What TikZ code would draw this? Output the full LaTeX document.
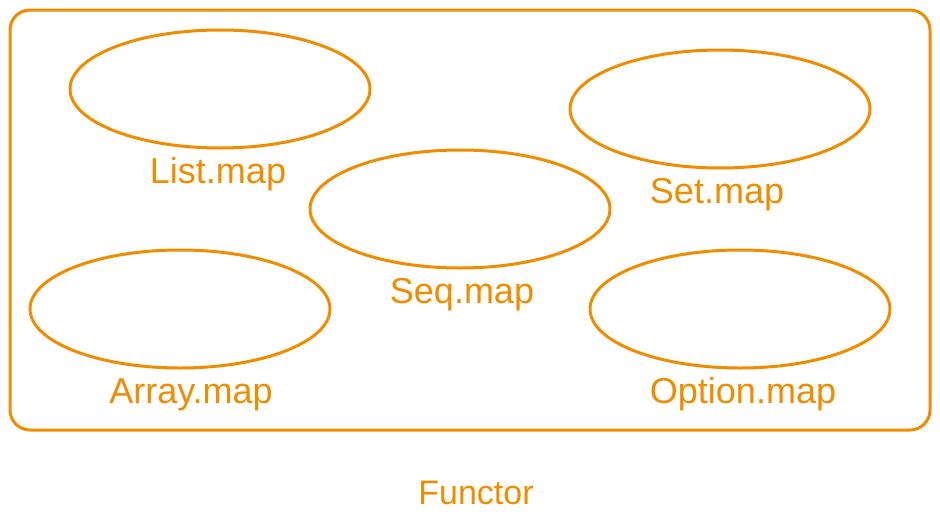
\documentclass[tikz,border=0pt]{standalone}
\usepackage{fontspec}
\setmainfont{Liberation Sans}
\usetikzlibrary{shapes.geometric}
\definecolor{funorange}{HTML}{F08C00}

\begin{document}
\begin{tikzpicture}[
		x=1pt, y=-1pt,
		every node/.style={text=funorange},
		mapset/.style={ellipse,draw=funorange,line width=3pt,minimum width=300pt,minimum height=118pt,inner sep=0pt},
		maplabel/.style={anchor=base,font=\fontsize{36}{40}\selectfont},
		frame/.style={draw=funorange,line width=3pt,rounded corners=20pt}
		]
		\useasboundingbox (0,0) rectangle (940,525);
		\draw[frame] (10,10) rectangle (930,430);
		% the ellipses
		\node[mapset] (list) at (220,89) {};
		\node[mapset] (set) at (720,109) {};
		\node[mapset] (seq) at (460,209) {};
		\node[mapset] (array) at (180,309) {};
		\node[mapset] (option) at (740,309) {};
		% their labels
		\node[maplabel] (listlbl) at (218,183) {List.map};
		\node[maplabel] (setlbl) at (717,203) {Set.map};
		\node[maplabel] (seqlbl) at (462,303) {Seq.map};
		\node[maplabel] (arraylbl) at (191,403) {Array.map};
		\node[maplabel] (optionlbl) at (743,403) {Option.map};
		\node[anchor=base,font=\fontsize{34}{38}\selectfont] (functor) at (476,504) {Functor};
\end{tikzpicture}
\end{document}
